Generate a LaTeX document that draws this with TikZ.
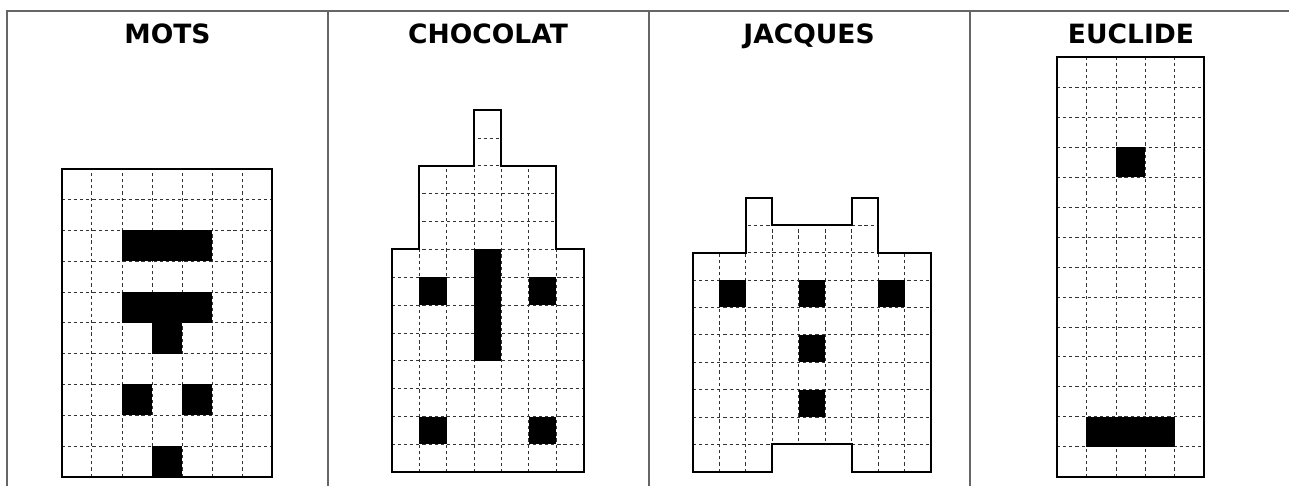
\documentclass[tikz,border=0pt]{standalone}
\usepackage{fontspec}
\setmainfont{DejaVu Sans}

\begin{document}
\begin{tikzpicture}[
    x=0.75pt,y=-0.75pt,
    title/.style={anchor=base, font=\fontsize{19.9}{24}\selectfont\bfseries},
    frame/.style={draw=black!60, line width=1.5pt},
    gridline/.style={draw=black!80, line width=0.6pt, dash pattern=on 2.4pt off 2.2pt},
    outline/.style={draw=black, line width=1.5pt, line join=miter},
    pixel/.style={fill=black}
]

    \useasboundingbox (0,0) rectangle (1289,486);

    % --- Table ---
    \draw[frame] (7,486) -- (7,11) -- (1289,11);
    \foreach \x in {328,648.5,969.5}
        \draw[frame] (\x,11) -- (\x,486);

    % --- Titles ---
    \node[title] (mots) at (167.5,43.3) {MOTS};
    \node[title] (chocolat) at (488,43.3) {CHOCOLAT};
    \node[title] (jacques) at (809,43.3) {JACQUES};
    \node[title] (euclide) at (1131,43.3) {EUCLIDE};

    % --- MOTS ---
    \begin{scope}[shift={(61.7,476.7)}, x=22.58pt, y=23.1pt]
        \foreach \i in {1,...,6} \draw[gridline] (\i,0) -- (\i,10);
        \foreach \j in {1,...,9} \draw[gridline] (0,\j) -- (7,\j);
        \fill[pixel] (2,7) rectangle (5,8);
        \fill[pixel] (2,5) rectangle (5,6);
        \fill[pixel] (3,4) rectangle (4,5);
        \fill[pixel] (2,2) rectangle (3,3);
        \fill[pixel] (4,2) rectangle (5,3);
        \fill[pixel] (3,0) rectangle (4,1);
        \draw[outline] (0,0) rectangle (7,10);
    \end{scope}

    % --- CHOCOLAT ---
    \begin{scope}[shift={(391.7,472.3)}, x=20.55pt, y=20.9pt]
        \begin{scope}
            \clip (0,0) -- (7,0) -- (7,8) -- (6,8) -- (6,11) -- (4,11) -- (4,13)
                -- (3,13) -- (3,11) -- (1,11) -- (1,8) -- (0,8) -- cycle;
            \foreach \i in {1,...,6} \draw[gridline] (\i,0) -- (\i,13);
            \foreach \j in {1,...,12} \draw[gridline] (0,\j) -- (7,\j);
        \end{scope}
        \fill[pixel] (3,4) rectangle (4,8);
        \fill[pixel] (1,6) rectangle (2,7);
        \fill[pixel] (5,6) rectangle (6,7);
        \fill[pixel] (1,1) rectangle (2,2);
        \fill[pixel] (5,1) rectangle (6,2);
        \draw[outline] (0,0) -- (7,0) -- (7,8) -- (6,8) -- (6,11) -- (4,11) -- (4,13)
            -- (3,13) -- (3,11) -- (1,11) -- (1,8) -- (0,8) -- cycle;
    \end{scope}

    % --- JACQUES ---
    \begin{scope}[shift={(692.7,471.7)}, x=19.875pt, y=20.55pt]
        \begin{scope}
            \clip (0,0) -- (3,0) -- (3,1) -- (6,1) -- (6,0) -- (9,0) -- (9,8) -- (7,8)
                -- (7,10) -- (6,10) -- (6,9) -- (3,9) -- (3,10) -- (2,10) -- (2,8) -- (0,8) -- cycle;
            \foreach \i in {1,...,8} \draw[gridline] (\i,0) -- (\i,10);
            \foreach \j in {1,...,9} \draw[gridline] (0,\j) -- (9,\j);
        \end{scope}
        \fill[pixel] (1,6) rectangle (2,7);
        \fill[pixel] (4,6) rectangle (5,7);
        \fill[pixel] (7,6) rectangle (8,7);
        \fill[pixel] (4,4) rectangle (5,5);
        \fill[pixel] (4,2) rectangle (5,3);
        \draw[outline] (0,0) -- (3,0) -- (3,1) -- (6,1) -- (6,0) -- (9,0) -- (9,8) -- (7,8)
            -- (7,10) -- (6,10) -- (6,9) -- (3,9) -- (3,10) -- (2,10) -- (2,8) -- (0,8) -- cycle;
    \end{scope}

    % --- EUCLIDE ---
    \begin{scope}[shift={(1057,476.7)}, x=22.1pt, y=22.47pt]
        \foreach \i in {1,...,4} \draw[gridline] (\i,0) -- (\i,14);
        \foreach \j in {1,...,13} \draw[gridline] (0,\j) -- (5,\j);
        \fill[pixel] (2,10) rectangle (3,11);
        \fill[pixel] (1,1) rectangle (4,2);
        \draw[outline] (0,0) rectangle (5,14);
    \end{scope}

\end{tikzpicture}
\end{document}
